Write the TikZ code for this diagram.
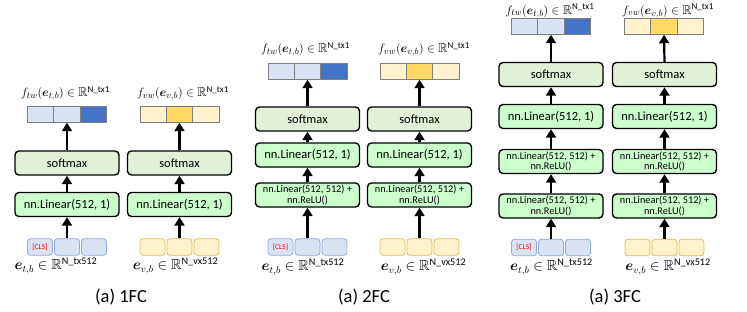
\documentclass[tikz,border=0pt]{standalone}
\usepackage{amsmath,amssymb}
\usepackage{fontspec}
\setmainfont{Carlito}
\usetikzlibrary{arrows.meta}
\definecolor{lblue}{HTML}{DAE3F3}
\definecolor{dblue}{HTML}{4472C4}
\definecolor{bblue}{HTML}{8EA9DB}
\definecolor{lyel}{HTML}{FFF2CC}
\definecolor{dyel}{HTML}{FFD966}
\definecolor{byel}{HTML}{E0BE5A}
\definecolor{smfill}{HTML}{E2F0D9}
\definecolor{linfill}{HTML}{CCFFCC}
\definecolor{cellb}{HTML}{7F7F7F}
\newcommand\outbar[6]{%
  \node[barcell,fill=#4] (#1a) at (#2-26.33,#3) {};
  \node[barcell,fill=#5] (#1b) at (#2,#3) {};
  \node[barcell,fill=#6] (#1c) at (#2+26.33,#3) {};}
\newcommand\inrow[6]{%
  \node[incell,fill=#4,draw=#5] (#1a) at (#2-27,#3) {#6};
  \node[incell,fill=#4,draw=#5] (#1b) at (#2,#3) {};
  \node[incell,fill=#4,draw=#5] (#1c) at (#2+27,#3) {};}
\begin{document}
\begin{tikzpicture}[x=1pt,y=-1pt,
  netbox/.style={draw=black,line width=1.4pt,rounded corners=4pt,minimum width=104pt,minimum height=24pt,inner sep=0pt,font=\fontsize{12.5}{14}\selectfont},
  smbox/.style={netbox,fill=smfill},
  linbox/.style={netbox,fill=linfill},
  relubox/.style={netbox,fill=linfill,align=center,font=\fontsize{10.3}{10.8}\selectfont},
  barcell/.style={draw=cellb,line width=0.8pt,minimum width=26.33pt,minimum height=16.5pt,inner sep=0pt,outer sep=0pt},
  incell/.style={line width=0.8pt,rounded corners=3pt,minimum width=25pt,minimum height=16.5pt,inner sep=0pt,font=\fontsize{7.5}{8}\selectfont\color{red}},
  arr/.style={line width=2.2pt,-{Triangle[width=10pt,length=8.5pt]}},
  ttl/.style={font=\fontsize{12.8}{15}\selectfont,inner sep=0pt},
  lbl/.style={font=\fontsize{14.5}{17}\selectfont,inner sep=0pt},
  captxt/.style={font=\fontsize{18.5}{21}\selectfont,inner sep=0pt}]
\useasboundingbox (0,0) rectangle (747,312);

% ---------------- Panel 1 ----------------
\outbar{p1lo}{67}{114.5}{lblue}{lblue}{dblue}
\node[smbox] (p1lsm) at (67,163) {softmax};
\node[linbox] (p1l1) at (67,204.5) {nn.Linear(512, 1)};
\inrow{p1li}{67}{247}{lblue}{bblue}{[CLS]}
\node[ttl] (p1lt) at (65.5,93.5) {$f_{tw}(\boldsymbol{e}_{t,b}) \in \mathbb{R}^{\text{N\_tx1}}$};
\node[lbl] (p1ll) at (56,266) {$\boldsymbol{e}_{t,b} \in \mathbb{R}^{\text{N\_tx512}}$};
\draw[arr] (p1lib.north) -- (p1l1.south);
\draw[arr] (p1l1.north) -- (p1lsm.south);
\draw[arr] (p1lsm.north) -- (p1lob.south);

\outbar{p1ro}{179.5}{114.5}{lyel}{dyel}{lyel}
\node[smbox] (p1rsm) at (179.5,163) {softmax};
\node[linbox] (p1r1) at (179.5,204.5) {nn.Linear(512, 1)};
\inrow{p1ri}{179.5}{247}{lyel}{byel}{}
\node[ttl] (p1rt) at (183,93.5) {$f_{vw}(\boldsymbol{e}_{v,b}) \in \mathbb{R}^{\text{N\_tx1}}$};
\node[lbl] (p1rl) at (175.5,266) {$\boldsymbol{e}_{v,b} \in \mathbb{R}^{\text{N\_vx512}}$};
\draw[arr] (p1rib.north) -- (p1r1.south);
\draw[arr] (p1r1.north) -- (p1rsm.south);
\draw[arr] (p1rsm.north) -- (p1rob.south);

\node[captxt] (cap1) at (121,297) {(a) 1FC};

% ---------------- Panel 2 ----------------
\outbar{p2lo}{307.5}{71.5}{lblue}{lblue}{dblue}
\node[smbox] (p2lsm) at (307.5,119) {softmax};
\node[linbox] (p2l1) at (307.5,155) {nn.Linear(512, 1)};
\node[relubox] (p2l2) at (307.5,195) {nn.Linear(512, 512) +\\nn.ReLU()};
\inrow{p2li}{307.5}{247}{lblue}{bblue}{[CLS]}
\node[ttl] (p2lt) at (305.5,49.5) {$f_{tw}(\boldsymbol{e}_{t,b}) \in \mathbb{R}^{\text{N\_tx1}}$};
\node[lbl] (p2ll) at (303,267) {$\boldsymbol{e}_{t,b} \in \mathbb{R}^{\text{N\_tx512}}$};
\draw[arr] (p2lib.north) -- (p2l2.south);
\draw[arr] (p2l2.north) -- (p2l1.south);
\draw[arr] (p2l1.north) -- (p2lsm.south);
\draw[arr] (p2lsm.north) -- (p2lob.south);

\outbar{p2ro}{419.5}{71.5}{lyel}{dyel}{lyel}
\node[smbox] (p2rsm) at (419.5,119) {softmax};
\node[linbox] (p2r1) at (419.5,155) {nn.Linear(512, 1)};
\node[relubox] (p2r2) at (419.5,195) {nn.Linear(512, 512) +\\nn.ReLU()};
\inrow{p2ri}{419.5}{247}{lyel}{byel}{}
\node[ttl] (p2rt) at (424,49.5) {$f_{vw}(\boldsymbol{e}_{v,b}) \in \mathbb{R}^{\text{N\_tx1}}$};
\node[lbl] (p2rl) at (423.5,267) {$\boldsymbol{e}_{v,b} \in \mathbb{R}^{\text{N\_vx512}}$};
\draw[arr] (p2rib.north) -- (p2r2.south);
\draw[arr] (p2r2.north) -- (p2r1.south);
\draw[arr] (p2r1.north) -- (p2rsm.south);
\draw[arr] (p2rsm.north) -- (p2rob.south);

\node[captxt] (cap2) at (364,297) {(a) 2FC};

% ---------------- Panel 3 ----------------
\outbar{p3lo}{551}{26.5}{lblue}{lblue}{dblue}
\node[smbox] (p3lsm) at (551,74.5) {softmax};
\node[linbox] (p3l1) at (551,116.5) {nn.Linear(512, 1)};
\node[relubox] (p3l2) at (551,161.5) {nn.Linear(512, 512) +\\nn.ReLU()};
\node[relubox] (p3l3) at (551,206) {nn.Linear(512, 512) +\\nn.ReLU()};
\inrow{p3li}{551}{247.5}{lblue}{bblue}{[CLS]}
\node[ttl] (p3lt) at (550,11) {$f_{tw}(\boldsymbol{e}_{t,b}) \in \mathbb{R}^{\text{N\_tx1}}$};
\node[lbl] (p3ll) at (551.5,267) {$\boldsymbol{e}_{t,b} \in \mathbb{R}^{\text{N\_tx512}}$};
\draw[arr] (p3lib.north) -- (p3l3.south);
\draw[arr] (p3l3.north) -- (p3l2.south);
\draw[arr] (p3l2.north) -- (p3l1.south);
\draw[arr] (p3l1.north) -- (p3lsm.south);
\draw[arr] (p3lsm.north) -- (p3lob.south);

\outbar{p3ro}{664}{26.5}{lyel}{dyel}{lyel}
\node[smbox] (p3rsm) at (664.5,74.5) {softmax};
\node[linbox] (p3r1) at (664.5,116.5) {nn.Linear(512, 1)};
\node[relubox] (p3r2) at (664.5,161.5) {nn.Linear(512, 512) +\\nn.ReLU()};
\node[relubox] (p3r3) at (664.5,206) {nn.Linear(512, 512) +\\nn.ReLU()};
\inrow{p3ri}{664.5}{247.5}{lyel}{byel}{}
\node[ttl] (p3rt) at (668,11) {$f_{vw}(\boldsymbol{e}_{v,b}) \in \mathbb{R}^{\text{N\_tx1}}$};
\node[lbl] (p3rl) at (668,267) {$\boldsymbol{e}_{v,b} \in \mathbb{R}^{\text{N\_vx512}}$};
\draw[arr] (p3rib.north) -- (p3r3.south);
\draw[arr] (p3r3.north) -- (p3r2.south);
\draw[arr] (p3r2.north) -- (p3r1.south);
\draw[arr] (p3r1.north) -- (p3rsm.south);
\draw[arr] (p3rsm.north) -- (p3rob.south);

\node[captxt] (cap3) at (615,297) {(a) 3FC};
\end{tikzpicture}
\end{document}
